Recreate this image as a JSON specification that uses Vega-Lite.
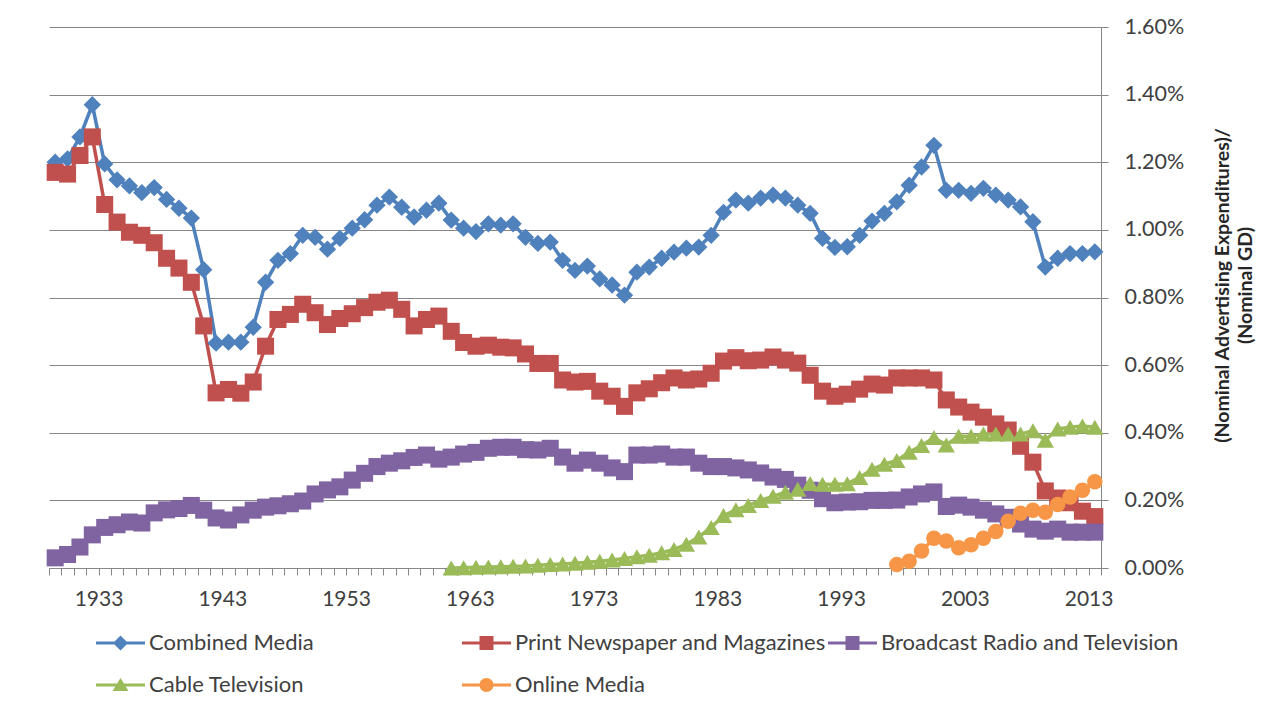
{
"$schema":"https://vega.github.io/schema/vega-lite/v6.json",
"width":1052,"height":541,
"autosize":{"type":"none"},
"padding":{"left":49,"top":27,"right":175,"bottom":145},
"background":"white",
"config":{"font":"Lato","view":{"stroke":null}},
"data":{"values":[
{"series":"Combined Media","year":1929,"value":1.2},{"series":"Combined Media","year":1930,"value":1.21},{"series":"Combined Media","year":1931,"value":1.275},{"series":"Combined Media","year":1932,"value":1.37},{"series":"Combined Media","year":1933,"value":1.195},{"series":"Combined Media","year":1934,"value":1.148},{"series":"Combined Media","year":1935,"value":1.13},{"series":"Combined Media","year":1936,"value":1.11},{"series":"Combined Media","year":1937,"value":1.125},{"series":"Combined Media","year":1938,"value":1.09},{"series":"Combined Media","year":1939,"value":1.064},{"series":"Combined Media","year":1940,"value":1.035},{"series":"Combined Media","year":1941,"value":0.882},
{"series":"Combined Media","year":1942,"value":0.665},{"series":"Combined Media","year":1943,"value":0.668},{"series":"Combined Media","year":1944,"value":0.668},{"series":"Combined Media","year":1945,"value":0.712},{"series":"Combined Media","year":1946,"value":0.845},{"series":"Combined Media","year":1947,"value":0.91},{"series":"Combined Media","year":1948,"value":0.93},{"series":"Combined Media","year":1949,"value":0.984},{"series":"Combined Media","year":1950,"value":0.978},{"series":"Combined Media","year":1951,"value":0.943},
{"series":"Combined Media","year":1952,"value":0.975},{"series":"Combined Media","year":1953,"value":1.005},{"series":"Combined Media","year":1954,"value":1.03},{"series":"Combined Media","year":1955,"value":1.073},{"series":"Combined Media","year":1956,"value":1.097},{"series":"Combined Media","year":1957,"value":1.067},{"series":"Combined Media","year":1958,"value":1.038},{"series":"Combined Media","year":1959,"value":1.058},{"series":"Combined Media","year":1960,"value":1.079},{"series":"Combined Media","year":1961,"value":1.029},
{"series":"Combined Media","year":1962,"value":1.005},{"series":"Combined Media","year":1963,"value":0.995},{"series":"Combined Media","year":1964,"value":1.018},{"series":"Combined Media","year":1965,"value":1.014},{"series":"Combined Media","year":1966,"value":1.018},{"series":"Combined Media","year":1967,"value":0.978},{"series":"Combined Media","year":1968,"value":0.96},{"series":"Combined Media","year":1969,"value":0.964},{"series":"Combined Media","year":1970,"value":0.91},{"series":"Combined Media","year":1971,"value":0.88},
{"series":"Combined Media","year":1972,"value":0.893},{"series":"Combined Media","year":1973,"value":0.855},{"series":"Combined Media","year":1974,"value":0.837},{"series":"Combined Media","year":1975,"value":0.807},{"series":"Combined Media","year":1976,"value":0.875},{"series":"Combined Media","year":1977,"value":0.89},{"series":"Combined Media","year":1978,"value":0.916},{"series":"Combined Media","year":1979,"value":0.934},{"series":"Combined Media","year":1980,"value":0.946},{"series":"Combined Media","year":1981,"value":0.949},
{"series":"Combined Media","year":1982,"value":0.984},{"series":"Combined Media","year":1983,"value":1.052},{"series":"Combined Media","year":1984,"value":1.088},{"series":"Combined Media","year":1985,"value":1.079},{"series":"Combined Media","year":1986,"value":1.094},{"series":"Combined Media","year":1987,"value":1.103},{"series":"Combined Media","year":1988,"value":1.094},{"series":"Combined Media","year":1989,"value":1.073},{"series":"Combined Media","year":1990,"value":1.049},{"series":"Combined Media","year":1991,"value":0.975},
{"series":"Combined Media","year":1992,"value":0.948},{"series":"Combined Media","year":1993,"value":0.95},{"series":"Combined Media","year":1994,"value":0.984},{"series":"Combined Media","year":1995,"value":1.026},{"series":"Combined Media","year":1996,"value":1.049},{"series":"Combined Media","year":1997,"value":1.083},{"series":"Combined Media","year":1998,"value":1.132},{"series":"Combined Media","year":1999,"value":1.186},{"series":"Combined Media","year":2000,"value":1.25},{"series":"Combined Media","year":2001,"value":1.117},
{"series":"Combined Media","year":2002,"value":1.117},{"series":"Combined Media","year":2003,"value":1.108},{"series":"Combined Media","year":2004,"value":1.123},{"series":"Combined Media","year":2005,"value":1.103},{"series":"Combined Media","year":2006,"value":1.088},{"series":"Combined Media","year":2007,"value":1.068},{"series":"Combined Media","year":2008,"value":1.024},{"series":"Combined Media","year":2009,"value":0.89},{"series":"Combined Media","year":2010,"value":0.916},{"series":"Combined Media","year":2011,"value":0.93},{"series":"Combined Media","year":2012,"value":0.93},{"series":"Combined Media","year":2013,"value":0.935},
{"series":"Print Newspaper and Magazines","year":1929,"value":1.17},{"series":"Print Newspaper and Magazines","year":1930,"value":1.165},{"series":"Print Newspaper and Magazines","year":1931,"value":1.22},{"series":"Print Newspaper and Magazines","year":1932,"value":1.275},{"series":"Print Newspaper and Magazines","year":1933,"value":1.075},{"series":"Print Newspaper and Magazines","year":1934,"value":1.023},{"series":"Print Newspaper and Magazines","year":1935,"value":0.993},{"series":"Print Newspaper and Magazines","year":1936,"value":0.984},{"series":"Print Newspaper and Magazines","year":1937,"value":0.962},{"series":"Print Newspaper and Magazines","year":1938,"value":0.916},{"series":"Print Newspaper and Magazines","year":1939,"value":0.887},{"series":"Print Newspaper and Magazines","year":1940,"value":0.845},{"series":"Print Newspaper and Magazines","year":1941,"value":0.716},
{"series":"Print Newspaper and Magazines","year":1942,"value":0.518},{"series":"Print Newspaper and Magazines","year":1943,"value":0.528},{"series":"Print Newspaper and Magazines","year":1944,"value":0.517},{"series":"Print Newspaper and Magazines","year":1945,"value":0.55},{"series":"Print Newspaper and Magazines","year":1946,"value":0.656},{"series":"Print Newspaper and Magazines","year":1947,"value":0.735},{"series":"Print Newspaper and Magazines","year":1948,"value":0.75},{"series":"Print Newspaper and Magazines","year":1949,"value":0.78},{"series":"Print Newspaper and Magazines","year":1950,"value":0.755},{"series":"Print Newspaper and Magazines","year":1951,"value":0.72},
{"series":"Print Newspaper and Magazines","year":1952,"value":0.738},{"series":"Print Newspaper and Magazines","year":1953,"value":0.752},{"series":"Print Newspaper and Magazines","year":1954,"value":0.77},{"series":"Print Newspaper and Magazines","year":1955,"value":0.786},{"series":"Print Newspaper and Magazines","year":1956,"value":0.792},{"series":"Print Newspaper and Magazines","year":1957,"value":0.765},{"series":"Print Newspaper and Magazines","year":1958,"value":0.716},{"series":"Print Newspaper and Magazines","year":1959,"value":0.735},{"series":"Print Newspaper and Magazines","year":1960,"value":0.745},{"series":"Print Newspaper and Magazines","year":1961,"value":0.7},
{"series":"Print Newspaper and Magazines","year":1962,"value":0.667},{"series":"Print Newspaper and Magazines","year":1963,"value":0.656},{"series":"Print Newspaper and Magazines","year":1964,"value":0.659},{"series":"Print Newspaper and Magazines","year":1965,"value":0.653},{"series":"Print Newspaper and Magazines","year":1966,"value":0.651},{"series":"Print Newspaper and Magazines","year":1967,"value":0.633},{"series":"Print Newspaper and Magazines","year":1968,"value":0.605},{"series":"Print Newspaper and Magazines","year":1969,"value":0.605},{"series":"Print Newspaper and Magazines","year":1970,"value":0.556},{"series":"Print Newspaper and Magazines","year":1971,"value":0.55},
{"series":"Print Newspaper and Magazines","year":1972,"value":0.552},{"series":"Print Newspaper and Magazines","year":1973,"value":0.523},{"series":"Print Newspaper and Magazines","year":1974,"value":0.508},{"series":"Print Newspaper and Magazines","year":1975,"value":0.478},{"series":"Print Newspaper and Magazines","year":1976,"value":0.518},{"series":"Print Newspaper and Magazines","year":1977,"value":0.53},{"series":"Print Newspaper and Magazines","year":1978,"value":0.548},{"series":"Print Newspaper and Magazines","year":1979,"value":0.562},{"series":"Print Newspaper and Magazines","year":1980,"value":0.556},{"series":"Print Newspaper and Magazines","year":1981,"value":0.559},
{"series":"Print Newspaper and Magazines","year":1982,"value":0.576},{"series":"Print Newspaper and Magazines","year":1983,"value":0.612},{"series":"Print Newspaper and Magazines","year":1984,"value":0.622},{"series":"Print Newspaper and Magazines","year":1985,"value":0.613},{"series":"Print Newspaper and Magazines","year":1986,"value":0.615},{"series":"Print Newspaper and Magazines","year":1987,"value":0.624},{"series":"Print Newspaper and Magazines","year":1988,"value":0.615},{"series":"Print Newspaper and Magazines","year":1989,"value":0.606},{"series":"Print Newspaper and Magazines","year":1990,"value":0.57},{"series":"Print Newspaper and Magazines","year":1991,"value":0.523},
{"series":"Print Newspaper and Magazines","year":1992,"value":0.508},{"series":"Print Newspaper and Magazines","year":1993,"value":0.514},{"series":"Print Newspaper and Magazines","year":1994,"value":0.529},{"series":"Print Newspaper and Magazines","year":1995,"value":0.544},{"series":"Print Newspaper and Magazines","year":1996,"value":0.541},{"series":"Print Newspaper and Magazines","year":1997,"value":0.562},{"series":"Print Newspaper and Magazines","year":1998,"value":0.562},{"series":"Print Newspaper and Magazines","year":1999,"value":0.562},{"series":"Print Newspaper and Magazines","year":2000,"value":0.556},{"series":"Print Newspaper and Magazines","year":2001,"value":0.497},
{"series":"Print Newspaper and Magazines","year":2002,"value":0.476},{"series":"Print Newspaper and Magazines","year":2003,"value":0.461},{"series":"Print Newspaper and Magazines","year":2004,"value":0.446},{"series":"Print Newspaper and Magazines","year":2005,"value":0.426},{"series":"Print Newspaper and Magazines","year":2006,"value":0.408},{"series":"Print Newspaper and Magazines","year":2007,"value":0.36},{"series":"Print Newspaper and Magazines","year":2008,"value":0.313},{"series":"Print Newspaper and Magazines","year":2009,"value":0.228},{"series":"Print Newspaper and Magazines","year":2010,"value":0.207},{"series":"Print Newspaper and Magazines","year":2011,"value":0.193},{"series":"Print Newspaper and Magazines","year":2012,"value":0.168},{"series":"Print Newspaper and Magazines","year":2013,"value":0.152},
{"series":"Broadcast Radio and Television","year":1929,"value":0.03},{"series":"Broadcast Radio and Television","year":1930,"value":0.04},{"series":"Broadcast Radio and Television","year":1931,"value":0.062},{"series":"Broadcast Radio and Television","year":1932,"value":0.098},{"series":"Broadcast Radio and Television","year":1933,"value":0.12},{"series":"Broadcast Radio and Television","year":1934,"value":0.128},{"series":"Broadcast Radio and Television","year":1935,"value":0.136},{"series":"Broadcast Radio and Television","year":1936,"value":0.133},{"series":"Broadcast Radio and Television","year":1937,"value":0.163},{"series":"Broadcast Radio and Television","year":1938,"value":0.172},{"series":"Broadcast Radio and Television","year":1939,"value":0.176},{"series":"Broadcast Radio and Television","year":1940,"value":0.185},{"series":"Broadcast Radio and Television","year":1941,"value":0.171},
{"series":"Broadcast Radio and Television","year":1942,"value":0.148},{"series":"Broadcast Radio and Television","year":1943,"value":0.142},{"series":"Broadcast Radio and Television","year":1944,"value":0.157},{"series":"Broadcast Radio and Television","year":1945,"value":0.171},{"series":"Broadcast Radio and Television","year":1946,"value":0.18},{"series":"Broadcast Radio and Television","year":1947,"value":0.184},{"series":"Broadcast Radio and Television","year":1948,"value":0.19},{"series":"Broadcast Radio and Television","year":1949,"value":0.198},{"series":"Broadcast Radio and Television","year":1950,"value":0.219},{"series":"Broadcast Radio and Television","year":1951,"value":0.231},
{"series":"Broadcast Radio and Television","year":1952,"value":0.24},{"series":"Broadcast Radio and Television","year":1953,"value":0.26},{"series":"Broadcast Radio and Television","year":1954,"value":0.28},{"series":"Broadcast Radio and Television","year":1955,"value":0.3},{"series":"Broadcast Radio and Television","year":1956,"value":0.31},{"series":"Broadcast Radio and Television","year":1957,"value":0.317},{"series":"Broadcast Radio and Television","year":1958,"value":0.327},{"series":"Broadcast Radio and Television","year":1959,"value":0.334},{"series":"Broadcast Radio and Television","year":1960,"value":0.322},{"series":"Broadcast Radio and Television","year":1961,"value":0.328},
{"series":"Broadcast Radio and Television","year":1962,"value":0.337},{"series":"Broadcast Radio and Television","year":1963,"value":0.342},{"series":"Broadcast Radio and Television","year":1964,"value":0.354},{"series":"Broadcast Radio and Television","year":1965,"value":0.357},{"series":"Broadcast Radio and Television","year":1966,"value":0.357},{"series":"Broadcast Radio and Television","year":1967,"value":0.35},{"series":"Broadcast Radio and Television","year":1968,"value":0.349},{"series":"Broadcast Radio and Television","year":1969,"value":0.354},{"series":"Broadcast Radio and Television","year":1970,"value":0.328},{"series":"Broadcast Radio and Television","year":1971,"value":0.31},
{"series":"Broadcast Radio and Television","year":1972,"value":0.319},{"series":"Broadcast Radio and Television","year":1973,"value":0.31},{"series":"Broadcast Radio and Television","year":1974,"value":0.296},{"series":"Broadcast Radio and Television","year":1975,"value":0.285},{"series":"Broadcast Radio and Television","year":1976,"value":0.334},{"series":"Broadcast Radio and Television","year":1977,"value":0.334},{"series":"Broadcast Radio and Television","year":1978,"value":0.337},{"series":"Broadcast Radio and Television","year":1979,"value":0.328},{"series":"Broadcast Radio and Television","year":1980,"value":0.328},{"series":"Broadcast Radio and Television","year":1981,"value":0.31},
{"series":"Broadcast Radio and Television","year":1982,"value":0.3},{"series":"Broadcast Radio and Television","year":1983,"value":0.3},{"series":"Broadcast Radio and Television","year":1984,"value":0.296},{"series":"Broadcast Radio and Television","year":1985,"value":0.29},{"series":"Broadcast Radio and Television","year":1986,"value":0.281},{"series":"Broadcast Radio and Television","year":1987,"value":0.269},{"series":"Broadcast Radio and Television","year":1988,"value":0.262},{"series":"Broadcast Radio and Television","year":1989,"value":0.245},{"series":"Broadcast Radio and Television","year":1990,"value":0.23},{"series":"Broadcast Radio and Television","year":1991,"value":0.205},
{"series":"Broadcast Radio and Television","year":1992,"value":0.193},{"series":"Broadcast Radio and Television","year":1993,"value":0.195},{"series":"Broadcast Radio and Television","year":1994,"value":0.196},{"series":"Broadcast Radio and Television","year":1995,"value":0.2},{"series":"Broadcast Radio and Television","year":1996,"value":0.2},{"series":"Broadcast Radio and Television","year":1997,"value":0.201},{"series":"Broadcast Radio and Television","year":1998,"value":0.21},{"series":"Broadcast Radio and Television","year":1999,"value":0.219},{"series":"Broadcast Radio and Television","year":2000,"value":0.225},{"series":"Broadcast Radio and Television","year":2001,"value":0.182},
{"series":"Broadcast Radio and Television","year":2002,"value":0.186},{"series":"Broadcast Radio and Television","year":2003,"value":0.18},{"series":"Broadcast Radio and Television","year":2004,"value":0.171},{"series":"Broadcast Radio and Television","year":2005,"value":0.16},{"series":"Broadcast Radio and Television","year":2006,"value":0.15},{"series":"Broadcast Radio and Television","year":2007,"value":0.13},{"series":"Broadcast Radio and Television","year":2008,"value":0.115},{"series":"Broadcast Radio and Television","year":2009,"value":0.109},{"series":"Broadcast Radio and Television","year":2010,"value":0.115},{"series":"Broadcast Radio and Television","year":2011,"value":0.106},{"series":"Broadcast Radio and Television","year":2012,"value":0.106},{"series":"Broadcast Radio and Television","year":2013,"value":0.106},
{"series":"Cable Television","year":1961,"value":0.0},{"series":"Cable Television","year":1962,"value":0.001},{"series":"Cable Television","year":1963,"value":0.002},{"series":"Cable Television","year":1964,"value":0.003},{"series":"Cable Television","year":1965,"value":0.004},{"series":"Cable Television","year":1966,"value":0.005},{"series":"Cable Television","year":1967,"value":0.006},{"series":"Cable Television","year":1968,"value":0.008},{"series":"Cable Television","year":1969,"value":0.01},{"series":"Cable Television","year":1970,"value":0.012},{"series":"Cable Television","year":1971,"value":0.014},
{"series":"Cable Television","year":1972,"value":0.017},{"series":"Cable Television","year":1973,"value":0.02},{"series":"Cable Television","year":1974,"value":0.024},{"series":"Cable Television","year":1975,"value":0.028},{"series":"Cable Television","year":1976,"value":0.033},{"series":"Cable Television","year":1977,"value":0.038},{"series":"Cable Television","year":1978,"value":0.045},{"series":"Cable Television","year":1979,"value":0.055},{"series":"Cable Television","year":1980,"value":0.07},{"series":"Cable Television","year":1981,"value":0.092},
{"series":"Cable Television","year":1982,"value":0.12},{"series":"Cable Television","year":1983,"value":0.155},{"series":"Cable Television","year":1984,"value":0.172},{"series":"Cable Television","year":1985,"value":0.185},{"series":"Cable Television","year":1986,"value":0.2},{"series":"Cable Television","year":1987,"value":0.212},{"series":"Cable Television","year":1988,"value":0.224},{"series":"Cable Television","year":1989,"value":0.233},{"series":"Cable Television","year":1990,"value":0.25},{"series":"Cable Television","year":1991,"value":0.248},
{"series":"Cable Television","year":1992,"value":0.248},{"series":"Cable Television","year":1993,"value":0.249},{"series":"Cable Television","year":1994,"value":0.268},{"series":"Cable Television","year":1995,"value":0.292},{"series":"Cable Television","year":1996,"value":0.307},{"series":"Cable Television","year":1997,"value":0.318},{"series":"Cable Television","year":1998,"value":0.342},{"series":"Cable Television","year":1999,"value":0.362},{"series":"Cable Television","year":2000,"value":0.386},{"series":"Cable Television","year":2001,"value":0.364},
{"series":"Cable Television","year":2002,"value":0.39},{"series":"Cable Television","year":2003,"value":0.39},{"series":"Cable Television","year":2004,"value":0.396},{"series":"Cable Television","year":2005,"value":0.396},{"series":"Cable Television","year":2006,"value":0.396},{"series":"Cable Television","year":2007,"value":0.396},{"series":"Cable Television","year":2008,"value":0.406},{"series":"Cable Television","year":2009,"value":0.378},{"series":"Cable Television","year":2010,"value":0.411},{"series":"Cable Television","year":2011,"value":0.416},{"series":"Cable Television","year":2012,"value":0.42},{"series":"Cable Television","year":2013,"value":0.416},
{"series":"Online Media","year":1997,"value":0.01},{"series":"Online Media","year":1998,"value":0.02},{"series":"Online Media","year":1999,"value":0.05},{"series":"Online Media","year":2000,"value":0.088},{"series":"Online Media","year":2001,"value":0.08},{"series":"Online Media","year":2002,"value":0.06},{"series":"Online Media","year":2003,"value":0.069},{"series":"Online Media","year":2004,"value":0.088},{"series":"Online Media","year":2005,"value":0.108},{"series":"Online Media","year":2006,"value":0.138},{"series":"Online Media","year":2007,"value":0.162},{"series":"Online Media","year":2008,"value":0.171},{"series":"Online Media","year":2009,"value":0.165},{"series":"Online Media","year":2010,"value":0.188},{"series":"Online Media","year":2011,"value":0.21},{"series":"Online Media","year":2012,"value":0.23},{"series":"Online Media","year":2013,"value":0.255}
]},
"encoding":{
"x":{"field":"year","type":"quantitative","scale":{"domain":[1928.5,2013.5],"nice":false,"zero":false},
 "axis":{"orient":"bottom","title":null,"grid":false,
  "values":[1928.5,1929.5,1930.5,1931.5,1932.5,1933.5,1934.5,1935.5,1936.5,1937.5,1938.5,1939.5,1940.5,1941.5,1942.5,1943.5,1944.5,1945.5,1946.5,1947.5,1948.5,1949.5,1950.5,1951.5,1952.5,1953.5,1954.5,1955.5,1956.5,1957.5,1958.5,1959.5,1960.5,1961.5,1962.5,1963.5,1964.5,1965.5,1966.5,1967.5,1968.5,1969.5,1970.5,1971.5,1972.5,1973.5,1974.5,1975.5,1976.5,1977.5,1978.5,1979.5,1980.5,1981.5,1982.5,1983.5,1984.5,1985.5,1986.5,1987.5,1988.5,1989.5,1990.5,1991.5,1992.5,1993.5,1994.5,1995.5,1996.5,1997.5,1998.5,1999.5,2000.5,2001.5,2002.5,2003.5,2004.5,2005.5,2006.5,2007.5,2008.5,2009.5,2010.5,2011.5,2012.5,2013.5],
  "labelExpr":"(datum.value - 1932.5) % 10 === 0 ? toString(datum.value + 0.5) : ''",
  "labelDx":6.19,"labelOverlap":false,"labelFlush":false,"labelBound":false,
  "labelFont":"Lato","labelFontSize":21,"labelColor":"#404040","labelPadding":13,
  "domainColor":"#868686","domainWidth":1,"tickColor":"#868686","tickSize":7,"tickWidth":1}},
"y":{"field":"value","type":"quantitative","scale":{"domain":[0,1.6],"nice":false,"zero":true},
 "axis":{"orient":"right","values":[0,0.2,0.4,0.6,0.8,1,1.2,1.4,1.6],
  "labelExpr":"format(datum.value, '.2f') + '%'",
  "grid":true,"gridColor":"#868686","gridWidth":1,
  "domainColor":"#868686","domainWidth":1,"tickColor":"#868686","tickSize":7,"tickWidth":1,
  "labelFont":"Lato","labelFontSize":21.5,"labelColor":"#404040","labelPadding":16,"labelAlign":"left",
  "title":["(Nominal Advertising Expenditures)/","(Nominal GD)"],
  "titleFont":"Lato","titleFontSize":19.5,"titleFontWeight":"bold","titleColor":"#262626",
  "titleAngle":270,"titleX":121,"titleY":258,"titleAlign":"center","titleBaseline":"middle","titleLineHeight":23}},
"color":{"field":"series","type":"nominal",
 "scale":{"domain":["Combined Media","Print Newspaper and Magazines","Broadcast Radio and Television","Cable Television","Online Media"],
  "range":["#4F81BD","#C0504D","#8064A2","#9BBB59","#F79646"]},
 "legend":{"orient":"none","legendX":75,"legendY":605,"direction":"horizontal","columns":3,"title":null,
  "labelFont":"Lato","labelFontSize":22,"labelColor":"#404040","labelLimit":600,"labelOffset":3,
  "symbolSize":400,"symbolStrokeWidth":0,"symbolOpacity":1,"columnPadding":2,"rowPadding":20,"gridAlign":"all","padding":0}}
},
"layer":[
 {"mark":{"type":"line","strokeWidth":3.5}},
 {"transform":[{"filter":"datum.series === 'Combined Media'"}],
  "mark":{"type":"point","shape":"diamond","filled":true,"opacity":1,"size":300,"strokeWidth":0}},
 {"transform":[{"filter":"datum.series === 'Print Newspaper and Magazines' || datum.series === 'Broadcast Radio and Television'"}],
  "mark":{"type":"point","shape":"square","filled":true,"opacity":1,"size":290,"strokeWidth":0}},
 {"transform":[{"filter":"datum.series === 'Cable Television'"}],
  "mark":{"type":"point","shape":"triangle-up","filled":true,"opacity":1,"size":300,"strokeWidth":0}},
 {"transform":[{"filter":"datum.series === 'Online Media'"}],
  "mark":{"type":"point","shape":"circle","filled":true,"opacity":1,"size":240,"strokeWidth":0}},
 {"transform":[{"filter":"false"}],
  "mark":{"type":"point","filled":true,"opacity":1,"strokeWidth":0},
  "encoding":{"shape":{"field":"series","type":"nominal",
   "scale":{"domain":["Combined Media","Print Newspaper and Magazines","Broadcast Radio and Television","Cable Television","Online Media"],
    "range":["M-3.9,-0.15H1V0.15H-3.9ZM-1.45,-0.75L-0.7,0L-1.45,0.75L-2.2,0Z",
             "M-3.9,-0.15H1V0.15H-3.9ZM-2.15,-0.7H-0.75V0.7H-2.15Z",
             "M-3.9,-0.15H1V0.15H-3.9ZM-2.15,-0.7H-0.75V0.7H-2.15Z",
             "M-3.9,-0.15H1V0.15H-3.9ZM-1.45,-0.7L-0.65,0.6L-2.25,0.6Z",
             "M-3.9,-0.15H1V0.15H-3.9ZM-0.75,0A0.7,0.7 0 1,1 -2.15,0A0.7,0.7 0 1,1 -0.75,0Z"]},
   "legend":null}}}
]
}
